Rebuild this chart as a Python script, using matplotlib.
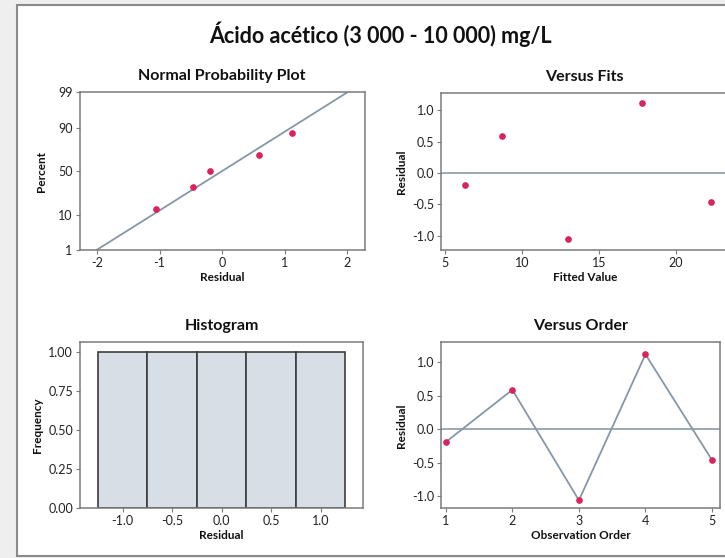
import numpy as np
import matplotlib
matplotlib.use("Agg")
import matplotlib.pyplot as plt
from matplotlib.patches import Rectangle
from statistics import NormalDist

# Residual diagnostics for the acetic acid calibration
observation_order = [1, 2, 3, 4, 5]
fitted_values = [6.3, 8.7, 13.0, 17.8, 22.3]
residuals = [-0.19, 0.59, -1.06, 1.12, -0.46]

prob_ticks = [1, 10, 50, 90, 99]
npp_xticks = [-2, -1, 0, 1, 2]
fit_xticks = [5, 10, 15, 20]
resid_yticks = [-1.0, -0.5, 0.0, 0.5, 1.0]
hist_xticks = [-1.0, -0.5, 0.0, 0.5, 1.0]
hist_yticks = [0.0, 0.25, 0.5, 0.75, 1.0]
hist_bin_edges = [-1.25, -0.75, -0.25, 0.25, 0.75, 1.25]

W, H = 725, 558
FONT = "Lato"
POINT_C = "#d8245c"
LINE_C = "#8597a9"
SPINE_C = "#7a7a7a"

plt.rcParams["font.family"] = [FONT, "DejaVu Sans"]
plt.rcParams["axes.unicode_minus"] = False

fig = plt.figure(figsize=(W / 100, H / 100), dpi=100, facecolor="#efefef")

# page frame
fig.add_artist(Rectangle((16.7 / W, 1 - 556 / H), (W + 20) / W, (556 - 5) / H,
                         transform=fig.transFigure, facecolor="white",
                         edgecolor="#8a8a8a", linewidth=1.5, zorder=0))


def box(l, t, r, b):
    return [l / W, 1 - b / H, (r - l) / W, (b - t) / H]


def style(ax):
    for s in ax.spines.values():
        s.set_color(SPINE_C)
        s.set_linewidth(1.1)
    ax.tick_params(direction="out", length=3, width=0.8, color=SPINE_C,
                   labelsize=9, pad=2, labelcolor="#222222",
                   top=False, right=False)
    ax.set_facecolor("white")


def title(ax, text):
    ax.set_title(text, fontsize=11.5, fontweight="bold", pad=9, color="#111111")


def xlab(ax, text, pad=2):
    ax.set_xlabel(text, fontsize=8.5, fontweight="bold", labelpad=pad, color="#111111")


def ylab(ax, text, pad=4):
    ax.set_ylabel(text, fontsize=8.5, fontweight="bold", labelpad=pad, color="#111111")


fig.text(380 / W, 1 - 34 / H, "Ácido acético (3 000 - 10 000) mg/L",
         ha="center", va="center", fontsize=15.5, fontweight="bold", color="#111111")

# Normal probability plot
nd = NormalDist()
n = len(residuals)
sorted_res = np.sort(residuals)
pp = [(i - 0.3) / (n + 0.4) for i in range(1, n + 1)]
zq = [nd.inv_cdf(p) for p in pp]
mu = float(np.mean(residuals))
sd = float(np.std(residuals, ddof=1))
zlim = nd.inv_cdf(0.99)

ax1 = fig.add_axes(box(79.5, 92.3, 364.5, 250))
style(ax1)
zline = np.array([-zlim, zlim])
ax1.plot(mu + sd * zline, zline, color=LINE_C, lw=1.3, zorder=2)
ax1.plot(sorted_res, zq, "o", color=POINT_C, ms=3.8, zorder=3)
ax1.set_xlim(-2.28, 2.28)
ax1.set_ylim(-zlim, zlim)
ax1.set_xticks(npp_xticks)
ax1.set_yticks([nd.inv_cdf(p / 100) for p in prob_ticks])
ax1.set_yticklabels([str(p) for p in prob_ticks])
title(ax1, "Normal Probability Plot")
xlab(ax1, "Residual")
ylab(ax1, "Percent", pad=8)

# Residuals versus fitted values
ax2 = fig.add_axes(box(441.5, 93.3, 728, 250))
style(ax2)
ax2.axhline(0, color="#8c9aa5", lw=1.2, zorder=1)
ax2.plot(fitted_values, residuals, "o", color=POINT_C, ms=3.8, zorder=3)
ax2.set_xlim(4.78, 23.4)
ax2.set_ylim(-1.23, 1.27)
ax2.set_xticks(fit_xticks)
ax2.set_yticks(resid_yticks)
ax2.set_yticklabels([f"{v:.1f}" for v in resid_yticks])
title(ax2, "Versus Fits")
xlab(ax2, "Fitted Value")
ylab(ax2, "Residual")

# Histogram of residuals
ax3 = fig.add_axes(box(80, 342.3, 363.3, 508.3))
style(ax3)
ax3.hist(residuals, bins=hist_bin_edges, color="#d8dee6", edgecolor="#3d3d3d",
         linewidth=1.2, zorder=2)
ax3.set_xlim(-1.43, 1.43)
ax3.set_ylim(0, 1.06)
ax3.set_xticks(hist_xticks)
ax3.set_xticklabels([f"{v:.1f}" for v in hist_xticks])
ax3.set_yticks(hist_yticks)
ax3.set_yticklabels([f"{v:.2f}" for v in hist_yticks])
title(ax3, "Histogram")
xlab(ax3, "Residual")
ylab(ax3, "Frequency")

# Residuals versus observation order
ax4 = fig.add_axes(box(441.5, 342.3, 720, 508.3))
style(ax4)
ax4.axhline(0, color="#8c9aa5", lw=1.2, zorder=1)
ax4.plot(observation_order, residuals, "-", color=LINE_C, lw=1.3, zorder=2)
ax4.plot(observation_order, residuals, "o", color=POINT_C, ms=3.8, zorder=3)
ax4.set_xlim(0.935, 5.12)
ax4.set_ylim(-1.18, 1.30)
ax4.set_xticks(observation_order)
ax4.set_yticks(resid_yticks)
ax4.set_yticklabels([f"{v:.1f}" for v in resid_yticks])
title(ax4, "Versus Order")
xlab(ax4, "Observation Order")
ylab(ax4, "Residual")

fig.savefig("out.png", dpi=100, facecolor=fig.get_facecolor())
